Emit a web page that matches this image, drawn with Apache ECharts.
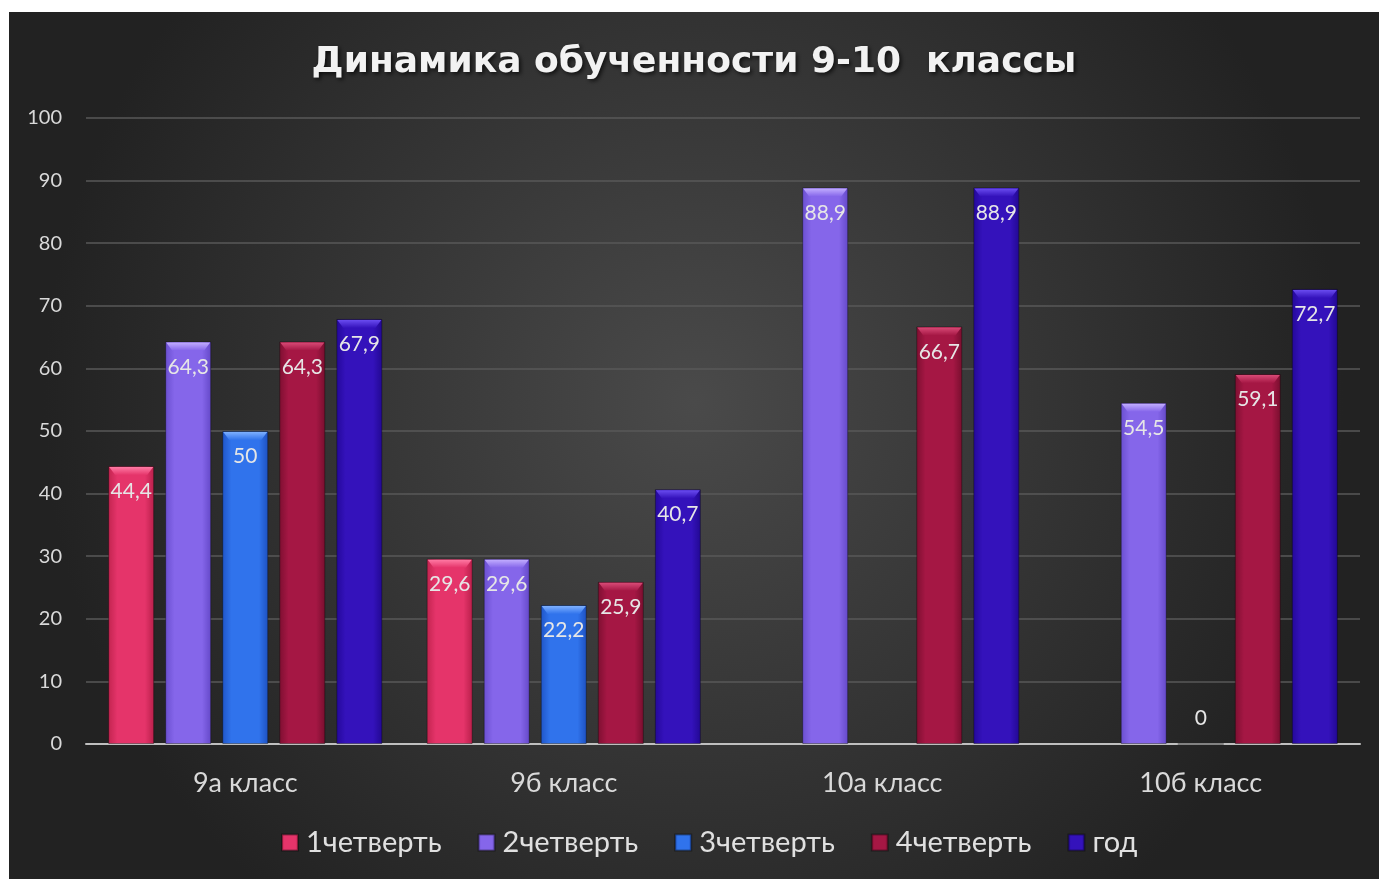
<!DOCTYPE html>
<html>
<head>
<meta charset="utf-8">
<script src="https://cdn.jsdelivr.net/npm/echarts@6/dist/echarts.min.js"></script>
<style>
	html, body { margin: 0; padding: 0; background: #fff; }
	#chart { position: absolute; left: 9px; top: 12px; width: 1370px; height: 867px; }
</style>
</head>
<body>
<div id="chart"></div>
<script>
const categories = [ "9а класс", "9б класс", "10а класс", "10б класс" ];
const seriesNames = [ "1четверть", "2четверть", "3четверть", "4четверть", "год" ];
const q1 = [ 44.4, 29.6, "-", "-" ];
const q2 = [ 64.3, 29.6, 88.9, 54.5 ];
const q3 = [ 50, 22.2, "-", 0 ];
const q4 = [ 64.3, 25.9, 66.7, 59.1 ];
const year = [ 67.9, 40.7, 88.9, 72.7 ];
const yTicks = [ 0, 100, 10 ]; // min, max, step

const seriesData = [ q1, q2, q3, q4, year ];
// edge, middle, edge, cap
const colors = [
	[ "#c2244f", "#e5346a", "#b81f4a", "#ff7aa4" ],
	[ "#6a4fd0", "#8566ea", "#6448c8", "#c2adff" ],
	[ "#1f55c8", "#3073ec", "#1d50c0", "#7db0ff" ],
	[ "#7e0f31", "#a51744", "#780e2e", "#d84a76" ],
	[ "#24089a", "#3412bb", "#220892", "#6a4cf0" ]
];
const font = "Lato, 'Open Sans', sans-serif";
const BAR_W = 46, BAR_GAP = 0.24;

const chart = echarts.init( document.getElementById( "chart" ) );

/* bar fill with darker edges */
function barFill( c ) {
	return new echarts.graphic.LinearGradient( 0, 0, 1, 0, [
		{ offset: 0, color: c[0] },
		{ offset: 0.2, color: c[1] },
		{ offset: 0.8, color: c[1] },
		{ offset: 1, color: c[2] }
	] );
}

const barSeries = seriesNames.map( ( name, i ) => ( {
	name,
	type: "bar",
	barWidth: BAR_W,
	barGap: BAR_GAP * 100 + "%",
	itemStyle: { color: barFill( colors[i] ), borderColor: "rgba(0,0,0,0.35)", borderWidth: 1 },
	label: {
		show: true,
		position: "insideTop",
		distance: 15,
		color: "#e6e6e6",
		fontSize: 21,
		fontFamily: font,
		formatter: p => String( p.value ).replace( ".", "," )
	},
	z: 2,
	data: seriesData[i].map( v => v === 0 ? { value: 0, label: { position: "top", distance: 15 } } : v )
} ) );

/* bevel cap on top of each bar */
const capSeries = seriesNames.map( ( name, i ) => ( {
	type: "custom",
	silent: true,
	z: 3,
	renderItem( params, api ) {
		const v = api.value( 1 );
		if ( !v ) return null;
		const p = api.coord( [ api.value( 0 ), v ] );
		const step = BAR_W * ( 1 + BAR_GAP );
		const total = 5 * BAR_W + 4 * BAR_W * BAR_GAP;
		const x0 = p[0] - total / 2 + i * step, x1 = x0 + BAR_W, y = p[1];
		return {
			type: "polygon",
			shape: { points: [ [ x0 + 1, y + 1 ], [ x1 - 1, y + 1 ], [ x1 - 7, y + 9 ], [ x0 + 7, y + 9 ] ] },
			style: {
				fill: new echarts.graphic.LinearGradient( 0, 0, 0, 1, [
					{ offset: 0, color: colors[i][3] },
					{ offset: 1, color: colors[i][1] }
				] )
			}
		};
	},
	data: seriesData[i].map( ( v, k ) => [ k, v === "-" ? 0 : v ] )
} ) );

chart.setOption( {
	backgroundColor: new echarts.graphic.RadialGradient( 0.5, 0.45, 0.75, [
		{ offset: 0, color: "#4a4a4a" },
		{ offset: 1, color: "#222222" }
	] ),
	animation: false,
	title: {
		text: "Динамика обученности 9-10  классы",
		left: "center",
		top: 28,
		textStyle: {
			color: "#f2f2f2",
			fontSize: 36,
			fontWeight: "bold",
			fontFamily: "'DejaVu Sans', sans-serif",
			textShadowColor: "rgba(0,0,0,0.7)",
			textShadowBlur: 4,
			textShadowOffsetX: 2,
			textShadowOffsetY: 2
		}
	},
	legend: {
		data: seriesNames,
		top: 811,
		left: 267,
		itemWidth: 16,
		itemHeight: 16,
		itemGap: 36,
		icon: "rect",
		textStyle: { color: "#e0e0e0", fontSize: 29, fontFamily: font, padding: [ 0, 0, 0, 3 ] }
	},
	grid: { left: 77, right: 19, top: 106, bottom: 135 },
	xAxis: {
		type: "category",
		data: categories,
		axisLine: { lineStyle: { color: "#bfbfbf", width: 2 } },
		axisTick: { show: false },
		axisLabel: { color: "#d9d9d9", fontSize: 27, fontFamily: font, margin: 26 }
	},
	yAxis: {
		type: "value",
		min: yTicks[0],
		max: yTicks[1],
		interval: yTicks[2],
		axisLine: { show: false },
		axisTick: { show: false },
		axisLabel: { color: "#d9d9d9", fontSize: 20, fontFamily: font, margin: 24 },
		splitLine: { lineStyle: { color: "#585858", width: 1.5 } }
	},
	series: [ ...barSeries, ...capSeries ]
} );
</script>
</body>
</html>
